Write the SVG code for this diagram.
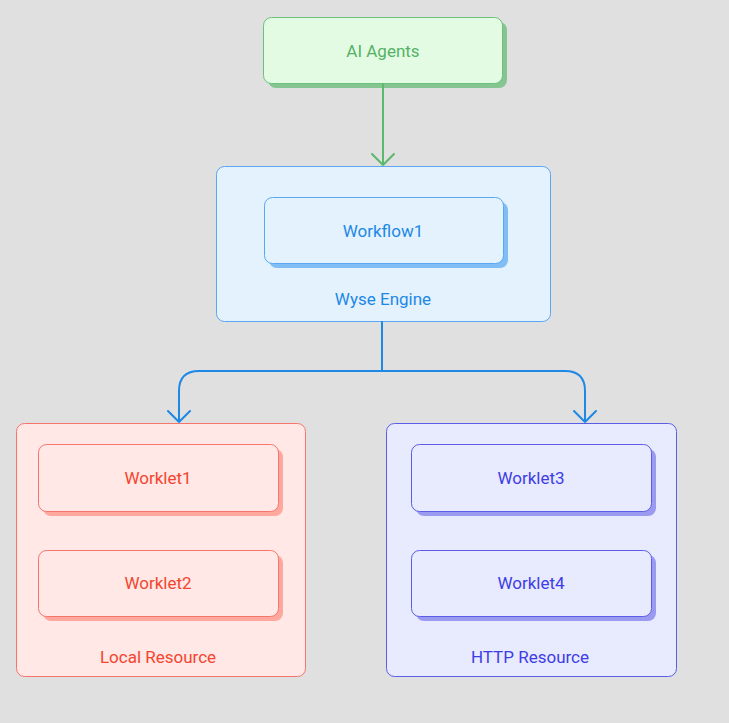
<svg xmlns="http://www.w3.org/2000/svg" width="729" height="723" viewBox="0 0 729 723">
<style>
text{font-family:Roboto,"Liberation Sans",sans-serif;font-size:17px;text-anchor:middle;dominant-baseline:central}
.g rect.b{fill:#e3fbe3;stroke:#6cc07c}
.g rect.s{fill:#84c592}
.g text{fill:#55b265}
.bl rect.b{fill:#e3f2fd;stroke:#5aa6f0}
.bl rect.s{fill:#80bdf5}
.bl text{fill:#1e88e5}
.r rect.b{fill:#ffe8e6;stroke:#f5756a}
.r rect.s{fill:#ffa89e}
.r text{fill:#f4442e}
.p rect.b{fill:#e8eafd;stroke:#5c5ce6}
.p rect.s{fill:#9a9af0}
.p text{fill:#3d3de6}
rect{stroke-width:1}
.c{fill:none;stroke-width:2;stroke-linecap:round;stroke-linejoin:round}
</style>
<rect width="729" height="723" fill="#e0e0e0"/>
<g id="ai-agents" class="g">
<rect class="s" x="268" y="22" width="239" height="66" rx="8"/>
<rect class="b" x="263.5" y="17.5" width="239" height="66" rx="8"/>
<text x="383" y="51">AI Agents</text>
</g>
<g id="wyse-engine" class="bl">
<rect class="b" x="216.5" y="166.5" width="334" height="155" rx="8"/>
<text x="383" y="299">Wyse Engine</text>
</g>
<g id="workflow1" class="bl">
<rect class="s" x="269" y="202" width="239" height="66" rx="8"/>
<rect class="b" x="264.5" y="197.5" width="239" height="66" rx="8"/>
<text x="383" y="231">Workflow1</text>
</g>
<g id="local-resource" class="r">
<rect class="b" x="16.5" y="423.5" width="289" height="253" rx="8"/>
<text x="158" y="657">Local Resource</text>
</g>
<g id="worklet1" class="r">
<rect class="s" x="43" y="449" width="240" height="67" rx="8"/>
<rect class="b" x="38.5" y="444.5" width="240" height="67" rx="8"/>
<text x="158" y="478">Worklet1</text>
</g>
<g id="worklet2" class="r">
<rect class="s" x="43" y="555" width="240" height="66" rx="8"/>
<rect class="b" x="38.5" y="550.5" width="240" height="66" rx="8"/>
<text x="158" y="583">Worklet2</text>
</g>
<g id="http-resource" class="p">
<rect class="b" x="386.5" y="423.5" width="290" height="253" rx="8"/>
<text x="530" y="657">HTTP Resource</text>
</g>
<g id="worklet3" class="p">
<rect class="s" x="416" y="449" width="240" height="67" rx="8"/>
<rect class="b" x="411.5" y="444.5" width="240" height="67" rx="8"/>
<text x="531" y="478">Worklet3</text>
</g>
<g id="worklet4" class="p">
<rect class="s" x="416" y="555" width="240" height="66" rx="8"/>
<rect class="b" x="411.5" y="550.5" width="240" height="66" rx="8"/>
<text x="531" y="583">Worklet4</text>
</g>
<g id="connectors">
<path class="c" stroke="#5cb86c" d="M383 84 V165 M372 154 L383 165 L394 154"/>
<path class="c" stroke="#1e88e5" d="M382 322 V371 M382 371 H199 Q179 371 179 391 V422 M168 411 L179 422 L190 411"/>
<path class="c" stroke="#1e88e5" d="M382 371 H565 Q585 371 585 391 V422 M574 411 L585 422 L596 411"/>
</g>
</svg>
